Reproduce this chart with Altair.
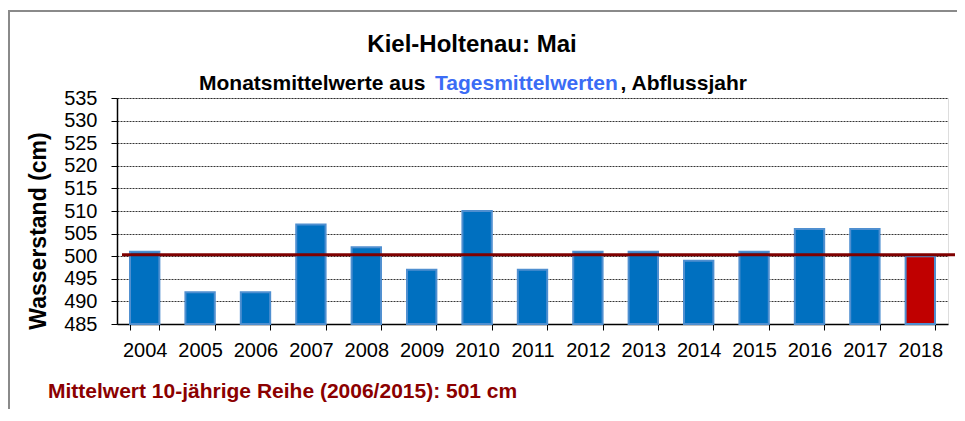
import altair as alt
import pandas as pd

years = ["2004", "2005", "2006", "2007", "2008", "2009", "2010", "2011",
         "2012", "2013", "2014", "2015", "2016", "2017", "2018"]
values = [501, 492, 492, 507, 502, 497, 510, 497, 501, 501, 499, 501, 506, 506, 500]
colors = ["#0070C0"] * 14 + ["#C00000"]
mean_value = 500.3
y_ticks = [485, 490, 495, 500, 505, 510, 515, 520, 525, 530, 535]

df = pd.DataFrame({"Jahr": years, "Wert": values, "Farbe": colors})

W, H = 831, 226
FONT = "Liberation Sans"

x_enc = alt.X("Jahr:N", sort=years, title=None,
              scale=alt.Scale(paddingInner=0.47, paddingOuter=0.235),
              axis=alt.Axis(labelAngle=0, labelFontSize=20, labelFont=FONT,
                            labelColor="black", labelPadding=10,
                            tickBand="extent", tickSize=6, tickColor="black",
                            domainColor="black", domainWidth=1.5, grid=False,
                            labelOverlap=False))
y_scale = alt.Scale(domain=[485, 535], zero=False, nice=False)

def y_axis():
    return alt.Axis(values=y_ticks, labelFontSize=20, labelFont=FONT,
                    labelColor="black", labelPadding=14, tickSize=6,
                    labelOverlap=False, labelFlush=False,
                    tickColor="black", domainColor="black", domainWidth=1.5,
                    gridColor="black", gridDash=[2, 1], gridWidth=0.8)

bars = alt.Chart(df).mark_bar(stroke="#4F8FD0", strokeWidth=2).encode(
    x=x_enc,
    y=alt.Y("Wert:Q", scale=y_scale, title=None, axis=y_axis()),
    y2=alt.datum(485),
    fill=alt.Fill("Farbe:N", scale=None),
)

mean_df = pd.DataFrame({"m": [mean_value]})
rule = alt.Chart(mean_df).mark_rule(color="#7F0000", strokeWidth=3).encode(
    y=alt.Y("m:Q", scale=y_scale, title=None, axis=y_axis()),
    x=alt.value(5), x2=alt.value(838),
)

frame = alt.Chart(mean_df).mark_rect(fill=None, stroke="#8A8A8A", strokeWidth=2).encode(
    x=alt.value(-108), x2=alt.value(900), y=alt.value(-87), y2=alt.value(400)
)

def txt(s, x, y, size, color="black", align="center", bold=True, angle=0):
    return alt.Chart(mean_df).mark_text(
        text=s, fontSize=size, font=FONT, fontWeight="bold" if bold else "normal",
        color=color, align=align, baseline="middle", angle=angle
    ).encode(x=alt.value(x), y=alt.value(y))

title = txt("Kiel-Holtenau: Mai", 355, -53, 24)
sub1 = txt("Monatsmittelwerte aus", 82, -14, 21, align="left")
sub2 = txt("Tagesmittelwerten", 318, -14, 21, color="#3B6CF5", align="left")
sub3 = txt(", Abflussjahr", 630, -14, 21, align="right")
ytitle = txt("Wasserstand (cm)", -78, 133, 23, angle=270)
footer = txt("Mittelwert 10-jährige Reihe (2006/2015): 501 cm", -69, 294, 21,
             color="#8B0000", align="left")

chart = alt.layer(frame, bars, rule, title, sub1, sub2, sub3, ytitle, footer).properties(
    width=W, height=H,
    autosize=alt.AutoSizeParams(type="none"),
    padding={"left": 109, "top": 90, "right": 9, "bottom": 85},
).configure_view(stroke="#8A8A8A", strokeWidth=2).configure(background="white")

chart.save("out.html", embed_options={"renderer": "svg", "actions": False})
